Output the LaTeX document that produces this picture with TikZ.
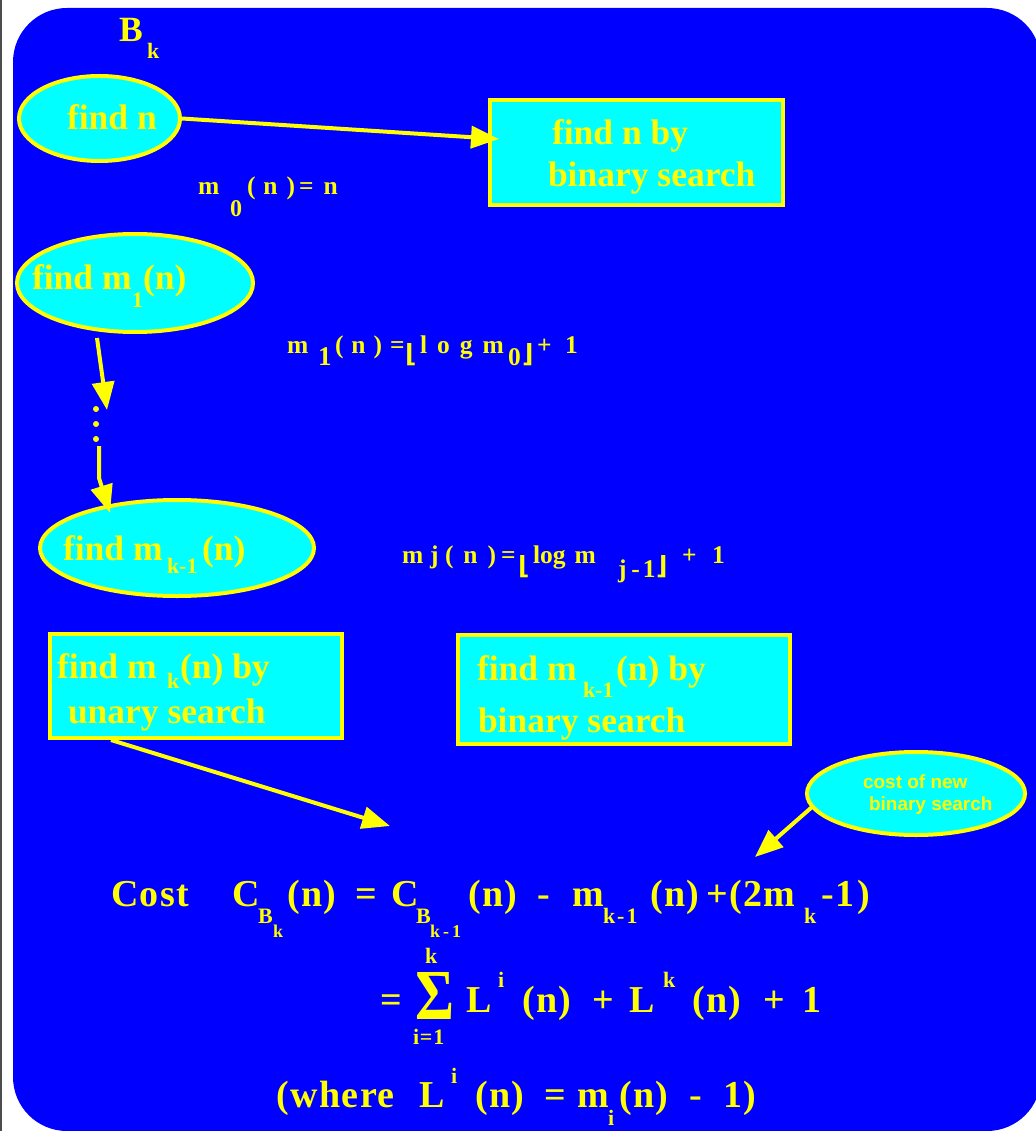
\documentclass[tikz,border=0pt]{standalone}
\usepackage{fontspec}
\usepackage{graphicx}
\setmainfont{Liberation Serif}
\newfontfamily\fmlfont[LetterSpace=4]{Liberation Serif}
\newfontfamily\lsans{Liberation Sans}
\newfontfamily\djv{DejaVu Sans}
\usetikzlibrary{arrows.meta,shapes.geometric}
\definecolor{bgblue}{RGB}{0,0,255}
\definecolor{cyanfill}{RGB}{0,255,255}
\definecolor{yel}{RGB}{255,255,0}
\newcommand\szA{\fontsize{35.5pt}{40pt}\selectfont\bfseries}
\newcommand\szS{\fontsize{22pt}{24pt}\selectfont\bfseries}
\newcommand\szM{\fontsize{25.5pt}{28pt}\selectfont\bfseries}
\newcommand\szMs{\fontsize{24pt}{28pt}\selectfont\bfseries}
\newcommand\szMb{\fontsize{27pt}{30pt}\selectfont\bfseries}
\newcommand\szC{\lsans\fontsize{19pt}{22pt}\selectfont\bfseries}
\newcommand\szF{\fmlfont\fontsize{38pt}{44pt}\selectfont\bfseries}
\newcommand\szFs{\fmlfont\fontsize{22pt}{24pt}\selectfont\bfseries}
\newcommand\szFk{\fmlfont\fontsize{18pt}{20pt}\selectfont\bfseries}
\newcommand\flr{\djv\fontsize{25pt}{28pt}\selectfont\bfseries}
\newcommand\tx[5]{\node[txt,font=#4] (#1) at (#2,#3) {#5};}
\begin{document}
\begin{tikzpicture}[x=1pt,y=-1pt,
  txt/.style={text=yel, inner sep=0pt, outer sep=0pt, anchor=base west},
  shapeE/.style={ellipse, draw=yel, fill=cyanfill, line width=4pt, inner sep=0pt},
  shapeB/.style={rectangle, draw=yel, fill=cyanfill, line width=4pt, inner sep=0pt},
  conn/.style={draw=yel, line width=4pt, -{Triangle[length=28pt,width=22pt]}}]
\useasboundingbox (0,0) rectangle (1035,1131);
\fill[white] (0,0) rectangle (1035,1131);
\fill[bgblue, rounded corners=54pt] (13,8) rectangle (1041,1131);
\draw[black!70, line width=1.5pt] (0.75,0) -- (0.75,1131);

% title
\tx{Bk}{119}{42}{\szA}{B}
\tx{Bksub}{147}{59}{\szS}{k}

% ellipse 1 and box 1
\node[shapeE, minimum width=161pt, minimum height=85pt] (e1) at (99.5,118.5) {};
\tx{e1t}{67}{130}{\szA}{find n}
\node[shapeB, minimum width=293pt, minimum height=105pt] (b1) at (636.5,152.5) {};
\tx{b1t}{552}{145}{\szA}{find n by}
\tx{b1u}{548}{187}{\szA}{binary search}
\coordinate (b1tip) at (499,139);
\draw[conn] (e1.east) -- (b1tip);

% m0
\tx{m0a}{198}{195}{\szM}{m}
\tx{m0b}{230}{217}{\szMs}{0}
\tx{m0c}{247}{195}{\szM}{(\kern8pt n\kern9pt)\kern4pt=\kern10pt n}

% ellipse 2
\node[shapeE, minimum width=236pt, minimum height=98pt] (e2) at (135,283) {};
\tx{e2t}{32}{290}{\szA}{find m}
\tx{e2s}{132}{307}{\szS}{1}
\tx{e2u}{143}{290}{\szA}{(n)}

% m1 line
\tx{m1a}{287}{353}{\szM}{m}
\tx{m1b}{318}{365}{\szMb}{1}
\tx{m1c}{335}{353}{\szM}{(\kern8pt n\kern8pt)}
\tx{m1d}{390}{353}{\szM}{=}
\tx{m1e}{405}{362}{\flr}{⌊}
\tx{m1f}{420}{353}{\szM}{l\kern10pt o\kern10pt g\kern10pt m}
\tx{m1g}{508}{365}{\szM}{0}
\tx{m1h}{522}{362}{\flr}{⌋}
\tx{m1i}{537}{353}{\szM}{+}
\tx{m1j}{565}{353}{\szM}{1}

% arrow to dots
\coordinate (a2s) at (97,338);
\coordinate (a2e) at (107,410);
\draw[conn] (a2s) -- (a2e);
\fill[yel] (96,409) circle (3pt);
\fill[yel] (96,424) circle (3pt);
\fill[yel] (96,439) circle (3pt);
\coordinate (a3s) at (99,446);
\coordinate (a3m) at (99,478);
\coordinate (e3tip) at (110,513);

% ellipse 3
\node[shapeE, minimum width=274pt, minimum height=96pt] (e3) at (177,548) {};
\tx{e3t}{63}{560}{\szA}{find m}
\tx{e3s}{167}{573}{\szS}{k-1}
\tx{e3u}{202}{560}{\szA}{(n)}
\draw[conn] (a3s) -- (a3m) -- (e3tip);

% mj line
\tx{mja}{402}{563}{\szM}{m}
\tx{mjb}{430}{563}{\szM}{j}
\tx{mjc}{445}{563}{\szM}{(\kern10pt n\kern10pt)\kern5pt=}
\tx{mjd}{518}{574}{\flr}{⌊}
\tx{mje}{533}{563}{\szM}{log\hspace{9pt}m}
\tx{mjf}{618}{577}{\szM}{j\kern5pt-\kern3pt1}
\tx{mjg}{656}{574}{\flr}{⌋}
\tx{mjh}{682}{563}{\szM}{+}
\tx{mji}{712}{563}{\szM}{1}

% box 3
\node[shapeB, minimum width=292pt, minimum height=104pt] (b3) at (196,686) {};
\tx{b3t}{57}{678}{\szA}{find m}
\tx{b3s}{167}{688}{\szS}{k}
\tx{b3u}{180}{678}{\szA}{(n) by}
\tx{b3v}{68}{723}{\szA}{unary search}

% box 4
\node[shapeB, minimum width=332pt, minimum height=109pt] (b4) at (624,689.5) {};
\tx{b4t}{477}{680}{\szA}{find m}
\tx{b4s}{583}{697}{\szS}{k-1}
\tx{b4u}{616}{680}{\szA}{(n) by}
\tx{b4v}{478}{732}{\szA}{binary search}

\coordinate (a4s) at (111,740);
\coordinate (a4e) at (390,826);
\draw[conn] (a4s) -- (a4e);

% ellipse 5
\node[shapeE, minimum width=218pt, minimum height=83pt] (e5) at (916,793.5) {};
\tx{e5t}{863}{788}{\szC}{cost of new}
\tx{e5u}{869}{810}{\szC}{binary search}
\coordinate (a5s) at (812,807);
\coordinate (a5e) at (755,857);
\draw[conn] (a5s) -- (a5e);

% formula line 1
\tx{f1a}{111}{906}{\szF}{Cost}
\tx{f1b}{232}{906}{\szF}{C}
\tx{f1c}{258}{923}{\szFs}{B}
\tx{f1d}{273}{937}{\szFk}{k}
\tx{f1e}{287}{906}{\szF}{(n)}
\tx{f1f}{355}{906}{\szF}{=}
\tx{f1g}{391}{906}{\szF}{C}
\tx{f1h}{416}{923}{\szFs}{B}
\tx{f1i}{430}{937}{\szFk}{k\kern3pt-\kern3pt1}
\tx{f1j}{468}{906}{\szF}{(n)}
\tx{f1k}{537}{906}{\szF}{-}
\tx{f1l}{572}{906}{\szF}{m}
\tx{f1m}{603}{923}{\szFs}{k\kern2pt-\kern2pt1}
\tx{f1n}{650}{906}{\szF}{(n)}
\tx{f1o}{706}{906}{\szF}{+}
\tx{f1p}{729}{906}{\szF}{(2m}
\tx{f1q}{804}{923}{\szFs}{k}
\tx{f1r}{821}{906}{\szF}{-\kern2pt1\kern3pt)}

% formula line 2
\tx{f2a}{380}{1012}{\szF}{=}
\tx{f2b}{425}{963}{\szFs}{k}
\node[txt, anchor=south west, font=\szF] (f2sig) at (415,1019) {\resizebox{39pt}{47pt}{Σ}};
\tx{f2c}{413}{1044}{\szFs}{i=1}
\tx{f2d}{466}{1012}{\szF}{L}
\tx{f2e}{498}{987}{\szFs}{i}
\tx{f2f}{522}{1012}{\szF}{(n)}
\tx{f2g}{592}{1012}{\szF}{+}
\tx{f2h}{629}{1012}{\szF}{L}
\tx{f2i}{663}{987}{\szFs}{k}
\tx{f2j}{692}{1012}{\szF}{(n)}
\tx{f2k}{763}{1012}{\szF}{+}
\tx{f2l}{802}{1012}{\szF}{1}

% formula line 3
\tx{f3a}{276}{1107}{\szF}{(where}
\tx{f3b}{419}{1107}{\szF}{L}
\tx{f3c}{451}{1083}{\szFs}{i}
\tx{f3d}{475}{1107}{\szF}{(n)}
\tx{f3e}{544}{1107}{\szF}{=}
\tx{f3f}{577}{1107}{\szF}{m}
\tx{f3g}{608}{1125}{\szFs}{i}
\tx{f3h}{619}{1107}{\szF}{(n)}
\tx{f3i}{689}{1107}{\szF}{-}
\tx{f3j}{723}{1107}{\szF}{1)}
\end{tikzpicture}
\end{document}
